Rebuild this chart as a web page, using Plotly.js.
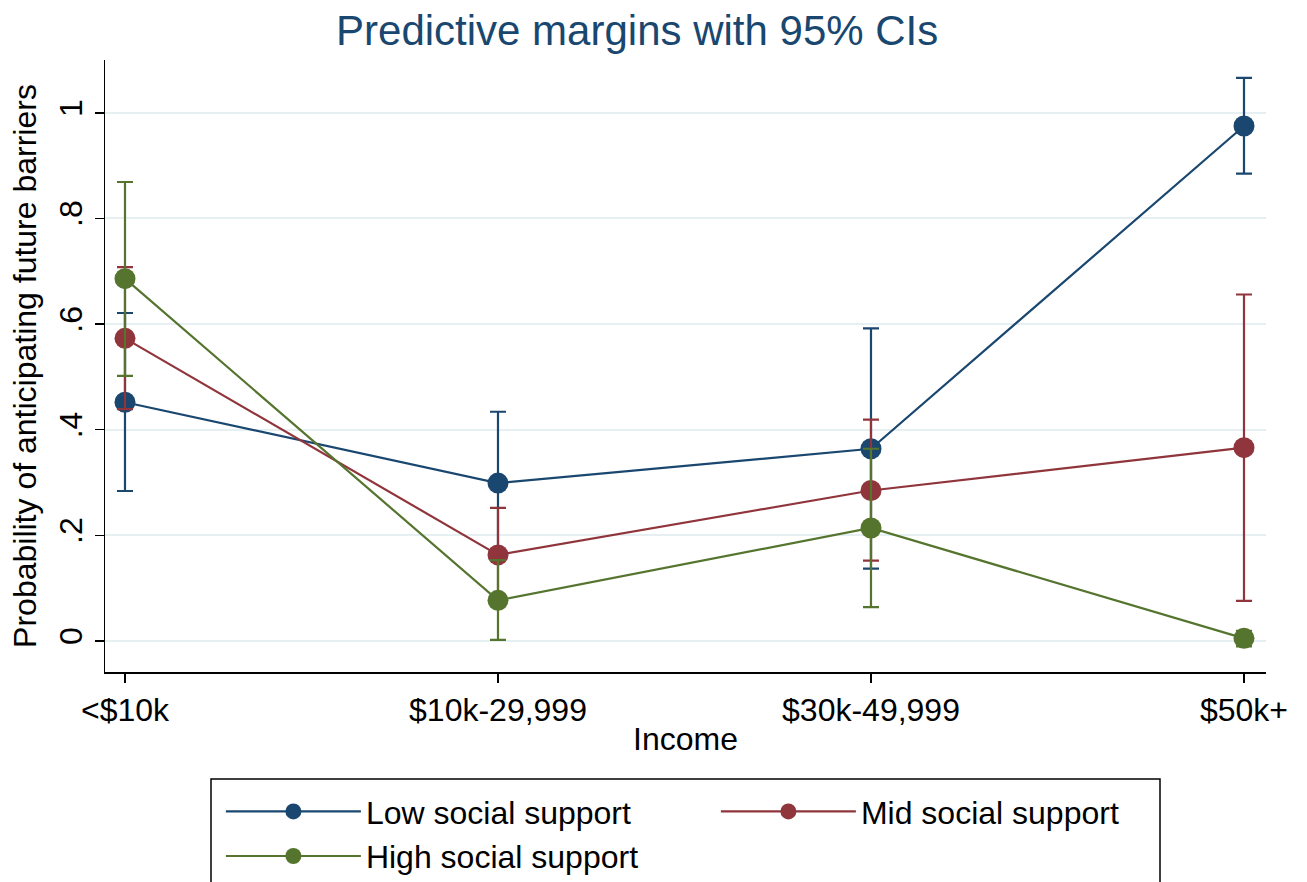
<!DOCTYPE html>
<html>
<head>
<meta charset="utf-8">
<script src="https://cdn.plot.ly/plotly-3.0.1.min.js"></script>
<style>html,body{margin:0;padding:0;background:#fff}#chart{width:1307px;height:882px}</style>
</head>
<body>
<div id="chart"></div>
<script>
const categories = ["<$10k", "$10k-29,999", "$30k-49,999", "$50k+"];
const seriesNames = ["Low social support", "Mid social support", "High social support"];

const lowMargin = [0.452, 0.299, 0.364, 0.975];
const lowUpper  = [0.621, 0.434, 0.592, 1.066];
const lowLower  = [0.284, 0.165, 0.137, 0.885];

const midMargin = [0.573, 0.163, 0.285, 0.366];
const midUpper  = [0.708, 0.252, 0.419, 0.656];
const midLower  = [0.439, 0.074, 0.152, 0.076];

const highMargin = [0.686, 0.077, 0.214, 0.005];
const highUpper  = [0.869, 0.153, 0.364, 0.019];
const highLower  = [0.502, 0.002, 0.064, -0.010];

const yTickVals = [0, 0.2, 0.4, 0.6, 0.8, 1];
const yTickText = ["0", ".2", ".4", ".6", ".8", "1"];

const colors = ["#1a476f", "#90353b", "#55752f"];

function mk(name, m, up, lo, color) {
  return {
    type: "scatter", mode: "lines+markers", name: name,
    x: categories, y: m,
    line: {color: color, width: 2.2},
    marker: {color: color, size: 21},
    error_y: {
      type: "data", symmetric: false,
      array: up.map((u, i) => u - m[i]),
      arrayminus: m.map((v, i) => v - lo[i]),
      color: color, thickness: 2.2, width: 8
    }
  };
}

const data = [
  mk(seriesNames[0], lowMargin, lowUpper, lowLower, colors[0]),
  mk(seriesNames[1], midMargin, midUpper, midLower, colors[1]),
  mk(seriesNames[2], highMargin, highUpper, highLower, colors[2])
];

const font = "Liberation Sans, Arial, Helvetica, sans-serif";

const layout = {
  width: 1307, height: 882,
  paper_bgcolor: "#ffffff", plot_bgcolor: "#ffffff",
  margin: {l: 105, r: 41, t: 60, b: 210, autoexpand: false},
  font: {family: font, color: "#000"},
  title: {text: "Predictive margins with 95% CIs", font: {size: 42, color: "#1a476f", family: font},
          xref: "container", x: 0.4875, xanchor: "center", yref: "container", y: 0.966, yanchor: "middle"},
  showlegend: true,
  xaxis: {
    type: "category", range: [-0.0536, 3.059],
    showline: true, linecolor: "#000", linewidth: 1.5,
    ticks: "outside", ticklen: 9, tickwidth: 1.5, tickcolor: "#000",
    showgrid: false, zeroline: false,
    tickfont: {size: 32, color: "#000"},
    title: {text: "Income", font: {size: 32, color: "#000"}, standoff: 0}
  },
  yaxis: {
    range: [-0.0587, 1.10],
    tickvals: yTickVals, ticktext: yTickText, tickangle: -90,
    showline: true, linecolor: "#000", linewidth: 1.5,
    ticks: "outside", ticklen: 9, tickwidth: 1.5, tickcolor: "#000",
    showgrid: true, gridcolor: "#e6eff1", gridwidth: 2, zeroline: false,
    tickfont: {size: 32, color: "#000"},
    title: {text: "Probability of anticipating future barriers", font: {size: 32, color: "#000"}, standoff: 6}
  },
  legend: {
    orientation: "h", xref: "container", yref: "container",
    x: 0.169, xanchor: "left", y: 0.111, yanchor: "top",
    borderwidth: 0, bgcolor: "rgba(0,0,0,0)",
    font: {size: 32, color: "#000"},
    entrywidth: 345, entrywidthmode: "pixels", itemwidth: 135,
    traceorder: "normal"
  },
  shapes: [{
    type: "rect", xref: "paper", yref: "paper",
    x0: (211 - 105) / 1161, x1: (1160 - 105) / 1161,
    y0: (672 - 779) / 612, y1: (672 - 900) / 612,
    line: {color: "#000", width: 1.5}, fillcolor: "rgba(0,0,0,0)", layer: "below"
  }]
};

Plotly.newPlot("chart", data, layout, {displayModeBar: false, staticPlot: true});
</script>
</body>
</html>
